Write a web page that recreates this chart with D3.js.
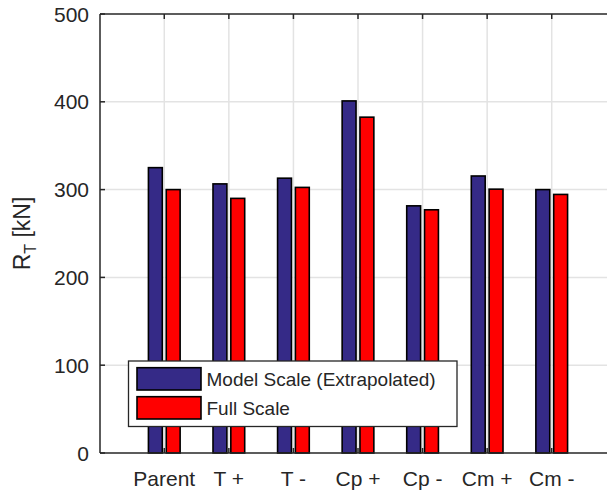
<!DOCTYPE html>
<html>
<head>
<meta charset="utf-8">
<script src="https://cdn.jsdelivr.net/npm/d3@7"></script>
<style>
  html, body { margin: 0; padding: 0; background: #fff; }
  svg { display: block; }
  text { font-family: "Liberation Sans", Arial, Helvetica, sans-serif; fill: #262626; }
</style>
</head>
<body>
<svg id="chart" width="607" height="492"></svg>
<script>
const categories = ["Parent", "T +", "T -", "Cp +", "Cp -", "Cm +", "Cm -"];
const modelScale = [325, 306.5, 313, 401, 281.5, 315.5, 300];
const fullScale = [300, 290, 302.5, 382.5, 277, 300.5, 294.5];
const yTicks = [0, 100, 200, 300, 400, 500];
const seriesNames = ["Model Scale (Extrapolated)", "Full Scale"];
const seriesColors = ["#352a87", "#ff0000"];

(function () {
const svg = d3.select("#chart");
const W = 607;
const pLeft = 100, pTop = 14, pBottom = 453;
const x = d3.scaleLinear().domain([0, 8]).range([99.7, 616.3]);
const y = d3.scaleLinear().domain([0, 500]).range([pBottom, pTop]);
const axisColor = "#262626";

// grid
const g = svg.append("g");
g.selectAll("line.gy").data(yTicks.slice(1, -1)).enter().append("line")
  .attr("x1", pLeft).attr("x2", W + 20)
  .attr("y1", d => y(d)).attr("y2", d => y(d))
  .attr("stroke", "#e3e3e3").attr("stroke-width", 1.5);
g.selectAll("line.gx").data(categories).enter().append("line")
  .attr("x1", (d, i) => x(i + 1)).attr("x2", (d, i) => x(i + 1))
  .attr("y1", pTop).attr("y2", pBottom)
  .attr("stroke", "#e3e3e3").attr("stroke-width", 1.5);

// bars
const offsets = [-0.138, 0.138];
const bw = 0.215;
const series = [modelScale, fullScale];
series.forEach((vals, s) => {
  svg.append("g").selectAll("rect").data(vals).enter().append("rect")
    .attr("x", (d, i) => x(i + 1 + offsets[s] - bw / 2))
    .attr("width", x(bw) - x(0))
    .attr("y", d => y(d))
    .attr("height", d => y(0) - y(d))
    .attr("fill", seriesColors[s])
    .attr("stroke", "#000").attr("stroke-width", 1.6);
});

// axes box lines
svg.append("line").attr("x1", pLeft).attr("x2", pLeft).attr("y1", pTop).attr("y2", pBottom)
  .attr("stroke", axisColor).attr("stroke-width", 1.5);
svg.append("line").attr("x1", pLeft).attr("x2", W + 20).attr("y1", pBottom).attr("y2", pBottom)
  .attr("stroke", axisColor).attr("stroke-width", 1.5);
svg.append("line").attr("x1", pLeft).attr("x2", W + 20).attr("y1", pTop).attr("y2", pTop)
  .attr("stroke", axisColor).attr("stroke-width", 1.5);

// y ticks
svg.selectAll("line.yt").data(yTicks).enter().append("line")
  .attr("x1", pLeft).attr("x2", pLeft + 5)
  .attr("y1", d => y(d)).attr("y2", d => y(d))
  .attr("stroke", axisColor).attr("stroke-width", 1.5);
svg.selectAll("text.yl").data(yTicks).enter().append("text")
  .attr("x", pLeft - 11).attr("y", d => y(d) + 7.5)
  .attr("text-anchor", "end").attr("font-size", 21)
  .text(d => d);

// x ticks (bottom and top, inward)
categories.forEach((c, i) => {
  svg.append("line").attr("x1", x(i + 1)).attr("x2", x(i + 1))
    .attr("y1", pBottom).attr("y2", pBottom - 5).attr("stroke", axisColor).attr("stroke-width", 1.5);
  svg.append("line").attr("x1", x(i + 1)).attr("x2", x(i + 1))
    .attr("y1", pTop).attr("y2", pTop + 5).attr("stroke", axisColor).attr("stroke-width", 1.5);
});
svg.selectAll("text.xl").data(categories).enter().append("text")
  .attr("x", (d, i) => x(i + 1)).attr("y", 485.5)
  .attr("text-anchor", "middle").attr("font-size", 21)
  .text(d => d);

// y label
const yl = svg.append("text")
  .attr("transform", "translate(29.5," + ((pTop + pBottom) / 2) + ") rotate(-90)")
  .attr("text-anchor", "middle").attr("font-size", 23);
yl.append("tspan").text("R");
yl.append("tspan").attr("font-size", 16).attr("dy", 6).text("T");
yl.append("tspan").attr("dy", -6).text(" [kN]");

// legend
const lg = svg.append("g");
lg.append("rect").attr("x", 128.5).attr("y", 361).attr("width", 328.5).attr("height", 65.5)
  .attr("fill", "#fff").attr("stroke", axisColor).attr("stroke-width", 1.3);
seriesNames.forEach((n, s) => {
  const yy = 367.7 + s * 29;
  lg.append("rect").attr("x", 137).attr("y", yy).attr("width", 64).attr("height", 22.3)
    .attr("fill", seriesColors[s]).attr("stroke", "#000").attr("stroke-width", 1.6);
  lg.append("text").attr("x", 206.5).attr("y", yy + 18).attr("font-size", 19).text(n);
});
})();
</script>
</body>
</html>
